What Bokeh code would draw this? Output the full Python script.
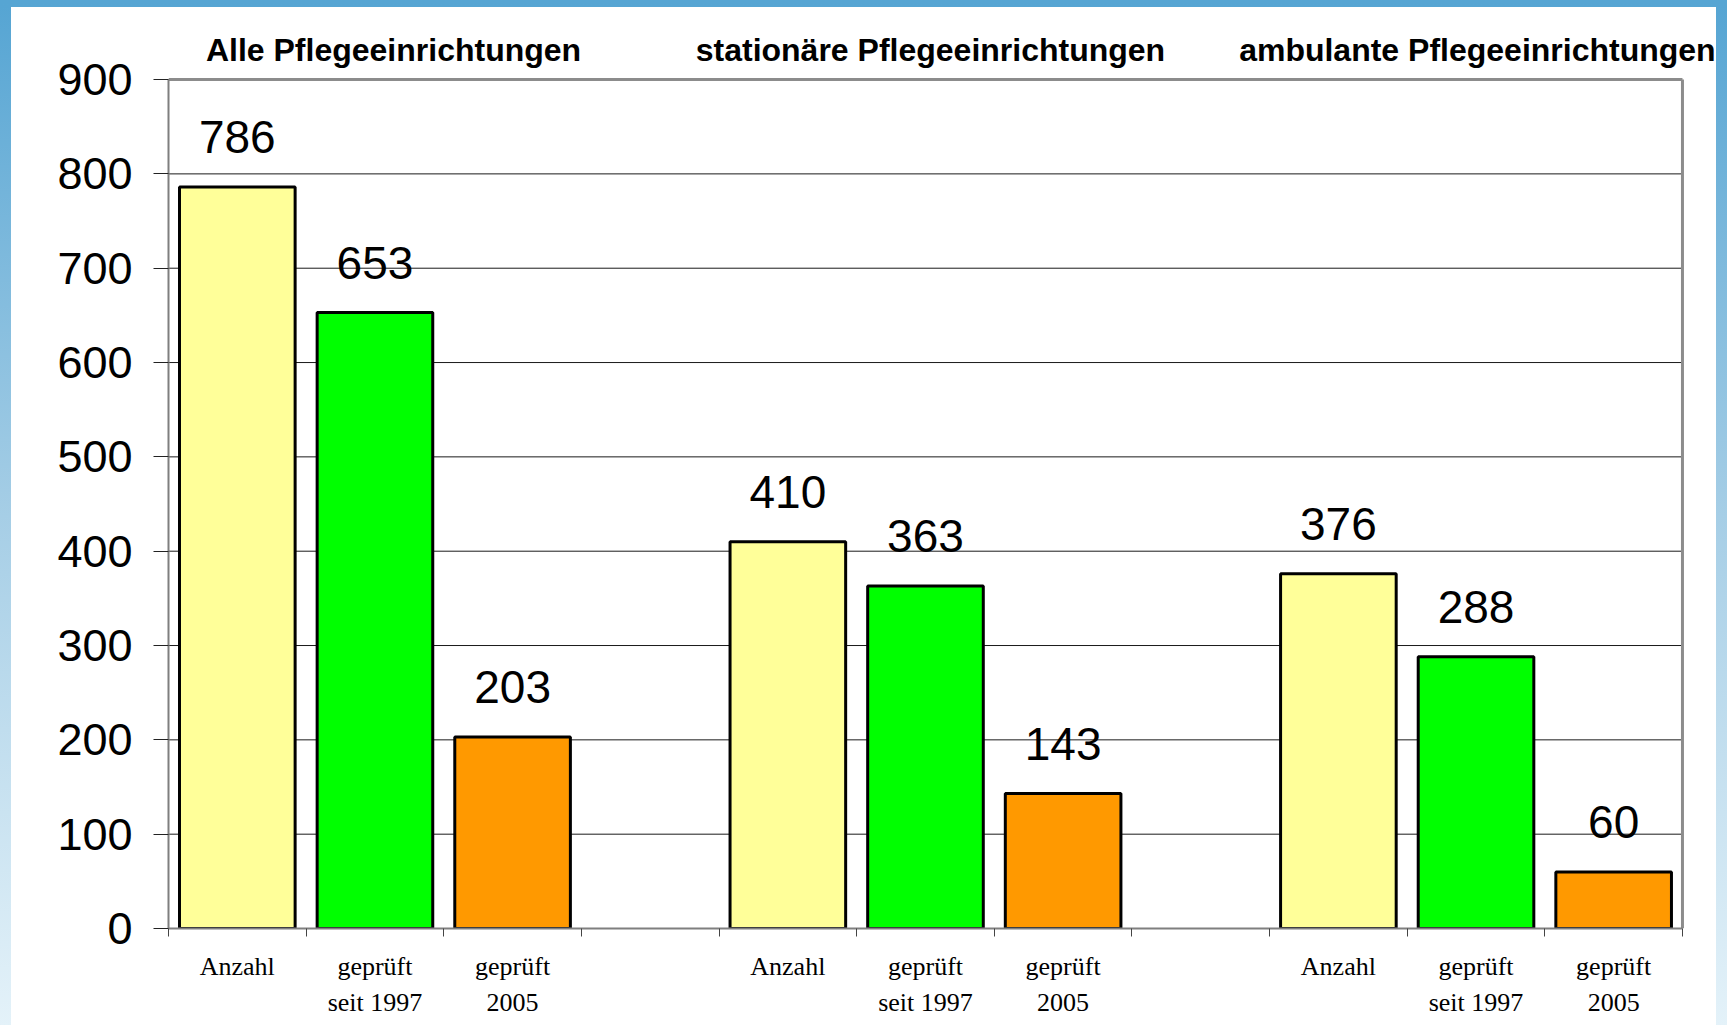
from bokeh.plotting import figure
from bokeh.models import Range1d, FixedTicker, LinearAxis, ColumnDataSource
from bokeh.core.properties import value
from bokeh.embed import file_html
from bokeh.resources import INLINE

# ---- data ----
groups = ["Alle Pflegeeinrichtungen", "stationäre Pflegeeinrichtungen", "ambulante Pflegeeinrichtungen"]
measures_line1 = ["Anzahl", "geprüft", "geprüft"]
measures_line2 = ["", "seit 1997", "2005"]
anzahl = [786, 410, 376]
seit1997 = [653, 363, 288]
pruef2005 = [203, 143, 60]
y_ticks = [0, 100, 200, 300, 400, 500, 600, 700, 800, 900]

colors = ["#FFFF99", "#00FF00", "#FF9900"]

# slot layout: 3 bars, one empty slot, 3 bars, one empty slot, 3 bars
xs, tops, cols, lab1, lab2 = [], [], [], {}, {}
series = [anzahl, seit1997, pruef2005]
for g in range(len(groups)):
    for m in range(len(measures_line1)):
        cx = g * 4 + m + 0.5
        xs.append(cx)
        tops.append(series[m][g])
        cols.append(colors[m])
        lab1[cx] = measures_line1[m]
        lab2[cx] = measures_line2[m]

n_slots = 11
y_max = y_ticks[-1]

src = ColumnDataSource(dict(x=xs, top=tops, color=cols, txt=[str(t) for t in tops]))

# the frame extends a little past the last slot so that the group titles can reach the panel edge
p = figure(width=1727, height=1025, output_backend="svg", toolbar_location=None,
           x_range=Range1d(0, n_slots + 0.24), y_range=Range1d(0, y_max + 52),
           min_border_left=157, min_border_right=23, min_border_top=23, min_border_bottom=104)
p.background_fill_color = "white"
p.border_fill_color = "white"
p.outline_line_color = None
# blue slide frame around the white chart panel
p.styles = {
    "border-style": "solid",
    "border-width": "7px 11px 0px 11px",
    "border-image": "linear-gradient(180deg, #56a5d3 0%, #a6cee6 50%, #e4f2f9 100%) 1",
}

p.xgrid.grid_line_color = None
p.ygrid.grid_line_color = None

# horizontal gridlines, only across the plot area
grid_vals = y_ticks[1:-1]
p.segment(x0=[0] * len(grid_vals), y0=grid_vals, x1=[n_slots] * len(grid_vals), y1=grid_vals,
          line_color="#1a1a1a", line_width=1)

# plot-area frame (top and right edges)
p.segment(x0=[0, n_slots], y0=[y_max, 0], x1=[n_slots, n_slots], y1=[y_max, y_max],
          line_color="#8c8c8c", line_width=3)

p.vbar(x="x", top="top", width=0.84, fill_color="color", line_color="black", line_width=3, source=src)

p.text(x="x", y="top", text="txt", source=src, text_align="center", text_baseline="alphabetic",
       y_offset=-50, text_font=value("Liberation Sans"), text_font_size="46px", text_color="black")

# group titles above the plot frame
title_x = [1.635, 5.536, 9.51]
p.text(x=title_x, y=[931] * 3, text=groups, text_align="center", text_baseline="alphabetic",
       text_font=value("Liberation Sans"), text_font_style="bold", text_font_size="32px",
       text_color="black")

# y axis
ya = p.yaxis[0]
ya.ticker = FixedTicker(ticks=y_ticks)
ya.bounds = (0, y_max)
ya.axis_line_color = "#7f7f7f"
ya.axis_line_width = 2
ya.major_tick_line_color = "#222222"
ya.major_tick_in = 0
ya.major_tick_out = 15
ya.minor_tick_line_color = None
ya.major_label_text_font = "Liberation Sans"
ya.major_label_text_font_size = "45px"
ya.major_label_text_color = "black"
ya.major_label_standoff = 21

# x axis, first label line
xa = p.xaxis[0]
xa.ticker = FixedTicker(ticks=xs, minor_ticks=list(range(n_slots + 1)))
xa.bounds = (0, n_slots)
xa.major_label_overrides = lab1
xa.axis_line_color = "#7f7f7f"
xa.axis_line_width = 2
xa.major_tick_line_color = None
xa.major_tick_in = 0
xa.major_tick_out = 0
xa.minor_tick_line_color = "#444444"
xa.minor_tick_in = 0
xa.minor_tick_out = 8
xa.major_label_text_font = "Liberation Serif"
xa.major_label_text_font_size = "26px"
xa.major_label_text_color = "black"
xa.major_label_standoff = 15

# x axis, second label line
xa2 = LinearAxis(ticker=FixedTicker(ticks=xs), major_label_overrides=lab2,
                 axis_line_color=None, major_tick_line_color=None, minor_tick_line_color=None,
                 major_tick_in=0, major_tick_out=0, major_label_standoff=4,
                 major_label_text_font="Liberation Serif", major_label_text_font_size="26px",
                 major_label_text_color="black")
p.add_layout(xa2, "below")

open("out.html", "w").write(file_html(p, INLINE))
